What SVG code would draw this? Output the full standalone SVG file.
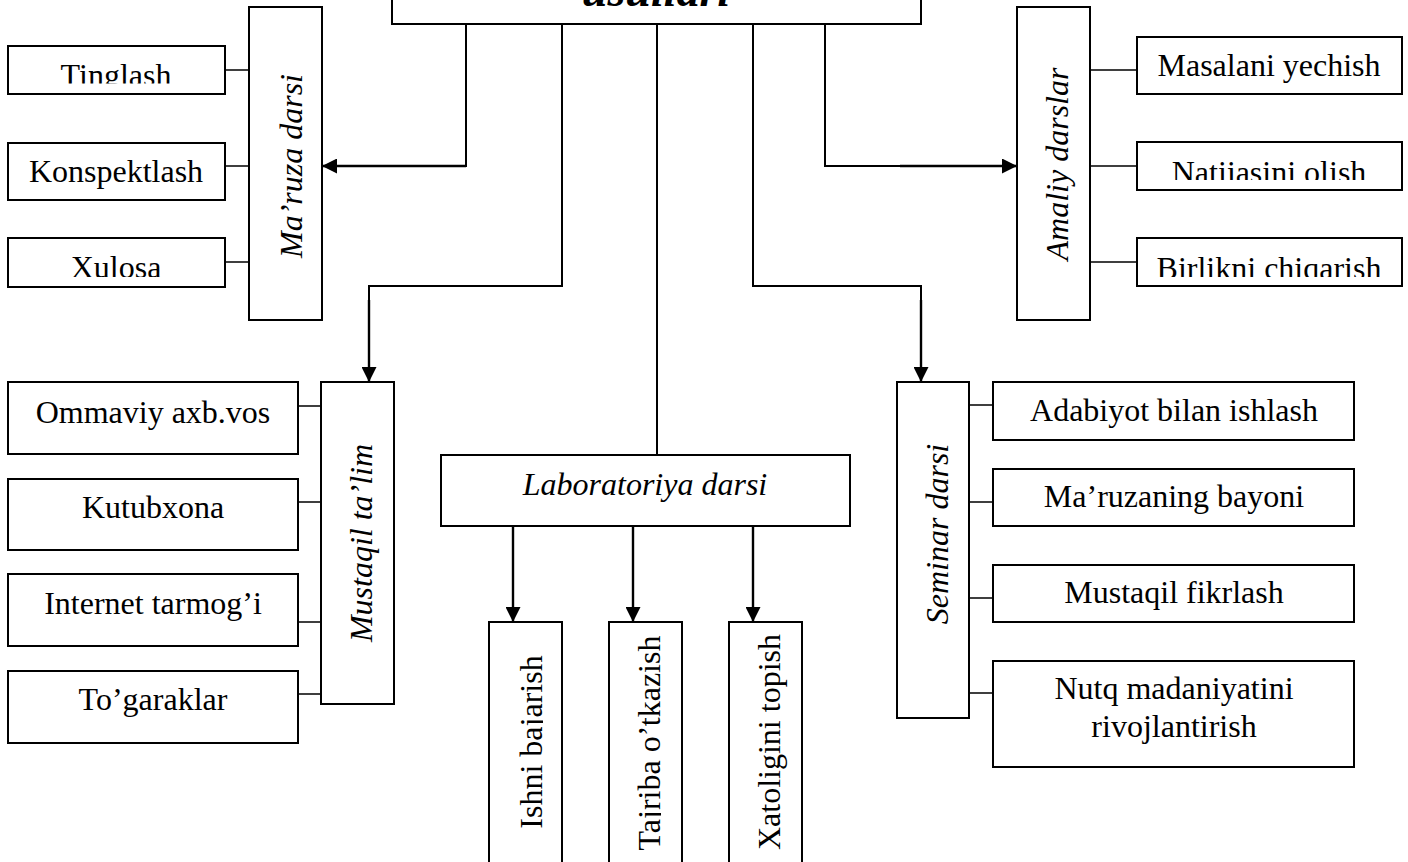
<svg xmlns="http://www.w3.org/2000/svg" width="1408" height="862" viewBox="0 0 1408 862">
<style>
.box{fill:#fff;stroke:#000;stroke-width:2}
.t{font-family:"Liberation Serif","Times New Roman",serif;font-size:32px;fill:#000;text-anchor:middle}
.i{font-style:italic}
.c{fill:none;stroke:#000;stroke-width:1.6}
.v{fill:none;stroke:#000;stroke-width:2}
.a{fill:none;stroke:#000;stroke-width:2.4;marker-end:url(#ah)}
</style>
<defs>
<marker id="ah" viewBox="0 0 10 10" refX="10" refY="5" markerUnits="userSpaceOnUse" markerWidth="15" markerHeight="15" orient="auto">
<path d="M0,0 L10,5 L0,10 Z" fill="#000"/>
</marker>
<clipPath id="cTing" clipPathUnits="userSpaceOnUse"><rect x="0" y="40" width="240" height="43.5"/></clipPath>
<clipPath id="cXul" clipPathUnits="userSpaceOnUse"><rect x="0" y="230" width="240" height="47"/></clipPath>
<clipPath id="cNat" clipPathUnits="userSpaceOnUse"><rect x="1130" y="135" width="278" height="45"/></clipPath>
<clipPath id="cBir" clipPathUnits="userSpaceOnUse"><rect x="1130" y="230" width="278" height="47"/></clipPath>
<clipPath id="cIsh" clipPathUnits="userSpaceOnUse"><rect x="480" y="620" width="63" height="260"/></clipPath>
<clipPath id="cTaj" clipPathUnits="userSpaceOnUse"><rect x="600" y="620" width="61" height="260"/></clipPath>
</defs>

<g id="connectors">
<path class="v" d="M466,24 V166 H338"/>
<path class="a" d="M466,166 H322"/>
<path class="v" d="M562,24 V286 H369 V368"/>
<path class="a" d="M369,300 V382"/>
<path class="v" d="M657,24 V455"/>
<path class="v" d="M753,24 V286 H921 V368"/>
<path class="a" d="M921,300 V382"/>
<path class="v" d="M825,24 V166 H1000"/>
<path class="a" d="M900,166 H1017"/>
<path class="a" d="M513,526 V622"/>
<path class="a" d="M633,526 V622"/>
<path class="a" d="M753,526 V622"/>
<path class="c" d="M225,70 H249 M225,166 H249 M225,262 H249"/>
<path class="c" d="M298,406 H321 M298,502 H321 M298,622 H321 M298,694 H321"/>
<path class="c" d="M1090,70 H1137 M1090,166 H1137 M1090,262 H1137"/>
<path class="c" d="M969,405 H993 M969,502 H993 M969,598 H993 M969,693 H993"/>
</g>

<g id="root">
<rect class="box" x="392" y="-10" width="529" height="34"/>
<text x="656" y="6" font-family="'Liberation Serif','Times New Roman',serif" font-size="46" font-weight="bold" font-style="italic" text-anchor="middle">usullari</text>
</g>

<g id="maruza">
<rect class="box" x="249" y="7" width="73" height="313"/>
<text class="t i" transform="translate(302,166) rotate(-90)">Ma’ruza darsi</text>
</g>
<g id="tinglash">
<rect class="box" x="8" y="46" width="217" height="48"/>
<text class="t" x="116" y="86" clip-path="url(#cTing)">Tinglash</text>
</g>
<g id="konspektlash">
<rect class="box" x="8" y="143" width="217" height="57"/>
<text class="t" x="116" y="182">Konspektlash</text>
</g>
<g id="xulosa">
<rect class="box" x="8" y="238" width="217" height="49"/>
<text class="t" x="116" y="278" clip-path="url(#cXul)">Xulosa</text>
</g>

<g id="amaliy">
<rect class="box" x="1017" y="7" width="73" height="313"/>
<text class="t i" transform="translate(1068,164) rotate(-90)">Amaliy darslar</text>
</g>
<g id="masalani">
<rect class="box" x="1137" y="37" width="265" height="57"/>
<text class="t" x="1269" y="76">Masalani yechish</text>
</g>
<g id="natijasini">
<rect class="box" x="1137" y="142" width="265" height="48"/>
<text class="t" x="1269" y="183" clip-path="url(#cNat)">Natijasini olish</text>
</g>
<g id="birlikni">
<rect class="box" x="1137" y="238" width="265" height="48"/>
<text class="t" x="1269" y="279" clip-path="url(#cBir)">Birlikni chiqarish</text>
</g>

<g id="mustaqil">
<rect class="box" x="321" y="382" width="73" height="322"/>
<text class="t i" transform="translate(372,543) rotate(-90)">Mustaqil ta’lim</text>
</g>
<g id="ommaviy">
<rect class="box" x="8" y="382" width="290" height="72"/>
<text class="t" x="153" y="423">Ommaviy axb.vos</text>
</g>
<g id="kutubxona">
<rect class="box" x="8" y="479" width="290" height="71"/>
<text class="t" x="153" y="518">Kutubxona</text>
</g>
<g id="internet">
<rect class="box" x="8" y="574" width="290" height="72"/>
<text class="t" x="153" y="614">Internet tarmog’i</text>
</g>
<g id="togaraklar">
<rect class="box" x="8" y="671" width="290" height="72"/>
<text class="t" x="153" y="710">To’garaklar</text>
</g>

<g id="laboratoriya">
<rect class="box" x="441" y="455" width="409" height="71"/>
<text class="t i" x="645" y="495">Laboratoriya darsi</text>
</g>
<g id="ishni">
<rect class="box" x="489" y="622" width="73" height="260"/>
<g clip-path="url(#cIsh)"><text class="t" transform="translate(542,742) rotate(-90)">Ishni bajarish</text></g>
</g>
<g id="tajriba">
<rect class="box" x="609" y="622" width="73" height="260"/>
<g clip-path="url(#cTaj)"><text class="t" transform="translate(660,743) rotate(-90)">Tajriba o’tkazish</text></g>
</g>
<g id="xatoligini">
<rect class="box" x="729" y="622" width="73" height="260"/>
<text class="t" transform="translate(780,742) rotate(-90)">Xatoligini topish</text>
</g>

<g id="seminar">
<rect class="box" x="897" y="382" width="72" height="336"/>
<text class="t i" transform="translate(948,534) rotate(-90)">Seminar darsi</text>
</g>
<g id="adabiyot">
<rect class="box" x="993" y="382" width="361" height="58"/>
<text class="t" x="1174" y="421">Adabiyot bilan ishlash</text>
</g>
<g id="maruzaning">
<rect class="box" x="993" y="469" width="361" height="57"/>
<text class="t" x="1174" y="507">Ma’ruzaning bayoni</text>
</g>
<g id="fikrlash">
<rect class="box" x="993" y="565" width="361" height="57"/>
<text class="t" x="1174" y="603">Mustaqil fikrlash</text>
</g>
<g id="nutq">
<rect class="box" x="993" y="661" width="361" height="106"/>
<text class="t" x="1174" y="699">Nutq madaniyatini</text>
<text class="t" x="1174" y="737">rivojlantirish</text>
</g>
</svg>
